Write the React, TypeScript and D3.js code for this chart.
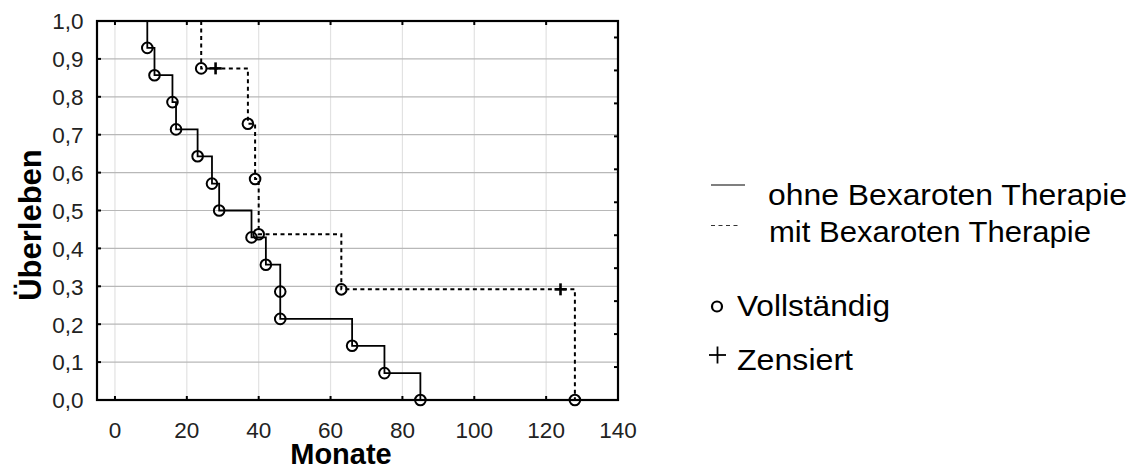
import React from "react";
import * as d3 from "d3";

// ---- data ----
const xTicks = [0, 20, 40, 60, 80, 100, 120, 140];
const yTicks = [0, 0.1, 0.2, 0.3, 0.4, 0.5, 0.6, 0.7, 0.8, 0.9, 1.0];
const rightTicks = [1, 2, 3, 4, 5, 6, 7, 8, 9, 10, 11];

// ohne Bexaroten Therapie (solid)
const ohneTimes = [9, 11, 16, 17, 23, 27, 29, 38, 42, 46, 46, 66, 75, 85];
const ohneSurv = [0.929, 0.857, 0.786, 0.714, 0.643, 0.571, 0.5, 0.429, 0.357, 0.286, 0.214, 0.143, 0.071, 0.0];
const ohneCensTimes: number[] = [];
const ohneCensSurv: number[] = [];

// mit Bexaroten Therapie (dashed)
const mitTimes = [24, 37, 39, 40, 63, 128];
const mitSurv = [0.875, 0.729, 0.583, 0.4375, 0.292, 0.0];
const mitCensTimes = [28, 124];
const mitCensSurv = [0.875, 0.292];

const legendLabels = ["ohne Bexaroten Therapie", "mit Bexaroten Therapie"];
const markerLabels = ["Vollständig", "Zensiert"];

const FONT = "'Liberation Sans', Arial, Helvetica, sans-serif";

export default function App() {
  const W = 1135, H = 470;
  const x = d3.scaleLinear().domain([-5, 140]).range([97, 618]);
  const y = d3.scaleLinear().domain([0, 1]).range([400, 21]);
  const yR = d3.scaleLinear().domain([0, 11.5]).range([400, 21]);

  const line = d3
    .line<[number, number]>()
    .x((d) => x(d[0]))
    .y((d) => y(d[1]))
    .curve(d3.curveStepAfter);

  const stepPts = (ts: number[], ss: number[]): [number, number][] => {
    const pts: [number, number][] = [[ts[0], 1]];
    ts.forEach((t, i) => pts.push([t, ss[i]]));
    return pts;
  };

  const ohnePath = line(stepPts(ohneTimes, ohneSurv)) || "";
  const mitPath = line(stepPts(mitTimes, mitSurv)) || "";

  const fmt = (v: number) => v.toFixed(1).replace(".", ",");

  const x0 = x.range()[0], x1 = x.range()[1];
  const yTop = y.range()[1], yBot = y.range()[0];
  const innerTicks = xTicks.filter((t) => t < 140);

  const plus = (cx: number, cy: number, k: string) => (
    <g key={k} stroke="#000" strokeWidth={2.6}>
      <line x1={cx - 6} x2={cx + 6} y1={cy} y2={cy} />
      <line x1={cx} x2={cx} y1={cy - 6} y2={cy + 6} />
    </g>
  );

  return (
    <svg
      width={W}
      height={H}
      style={{ position: "absolute", left: 0, top: 0, background: "#fff" }}
      fontFamily={FONT}
    >
      <rect x={0} y={0} width={W} height={H} fill="#fff" />
      {/* vertical grid */}
      {innerTicks.map((t) => (
        <line key={"vg" + t} x1={x(t)} x2={x(t)} y1={yTop} y2={yBot} stroke="#e2e2e2" strokeWidth={1.2} />
      ))}
      {/* horizontal grid */}
      {yTicks.slice(1, -1).map((t) => (
        <line key={"hg" + t} x1={x0} x2={x1} y1={y(t)} y2={y(t)} stroke="#b8b8b8" strokeWidth={1.2} />
      ))}
      {/* ticks */}
      {innerTicks.map((t) => (
        <g key={"xt" + t} stroke="#000" strokeWidth={2}>
          <line x1={x(t)} x2={x(t)} y1={yBot} y2={yBot - 4} />
          <line x1={x(t)} x2={x(t)} y1={yTop} y2={yTop + 4} />
        </g>
      ))}
      {yTicks.slice(1, -1).map((t) => (
        <line key={"yt" + t} x1={x0} x2={x0 + 4} y1={y(t)} y2={y(t)} stroke="#000" strokeWidth={2} />
      ))}
      {rightTicks.map((t) => (
        <line key={"rt" + t} x1={x1} x2={x1 - 4} y1={yR(t)} y2={yR(t)} stroke="#000" strokeWidth={2} />
      ))}
      {/* frame */}
      <rect x={x0} y={yTop} width={x1 - x0} height={yBot - yTop} fill="none" stroke="#000" strokeWidth={2.2} />

      {/* curves */}
      <path d={ohnePath} fill="none" stroke="#000" strokeWidth={1.8} />
      <path d={mitPath} fill="none" stroke="#000" strokeWidth={2} strokeDasharray="4,3.5" />

      {/* event markers */}
      {ohneTimes.map((t, i) => (
        <circle key={"oc" + i} cx={x(t)} cy={y(ohneSurv[i])} r={5.3} fill="none" stroke="#000" strokeWidth={2} />
      ))}
      {mitTimes.map((t, i) => (
        <circle key={"mc" + i} cx={x(t)} cy={y(mitSurv[i])} r={5.3} fill="none" stroke="#000" strokeWidth={2} />
      ))}
      {ohneCensTimes.map((t, i) => plus(x(t), y(ohneCensSurv[i]), "oz" + i))}
      {mitCensTimes.map((t, i) => plus(x(t), y(mitCensSurv[i]), "mz" + i))}

      {/* tick labels */}
      {xTicks.map((t) => (
        <text key={"xl" + t} x={x(t)} y={437.5} textAnchor="middle" fontSize={22.5} fill="#222">
          {t}
        </text>
      ))}
      {yTicks.map((t) => (
        <text key={"yl" + t} x={83.5} y={y(t) + 8.3} textAnchor="end" fontSize={22.5} fill="#222">
          {fmt(t)}
        </text>
      ))}

      {/* axis titles */}
      <text x={341} y={464} textAnchor="middle" fontSize={29} fontWeight="bold" fill="#000">
        Monate
      </text>
      <text
        transform="translate(41,225) rotate(-90)"
        textAnchor="middle"
        fontSize={31}
        fontWeight="bold"
        fill="#000"
      >
        Überleben
      </text>

      {/* legend */}
      <line x1={711} x2={745} y1={185} y2={185} stroke="#000" strokeWidth={1.2} />
      <text x={768} y={205} fontSize={29} fill="#000" textLength={359} lengthAdjust="spacingAndGlyphs">
        {legendLabels[0]}
      </text>
      <line x1={711} x2={741} y1={225.5} y2={225.5} stroke="#333" strokeWidth={1.1} strokeDasharray="4,3.5" />
      <text x={769} y={242} fontSize={29} fill="#000" textLength={322} lengthAdjust="spacingAndGlyphs">
        {legendLabels[1]}
      </text>

      <circle cx={717} cy={306.5} r={5} fill="none" stroke="#000" strokeWidth={2.2} />
      <text x={737} y={316} fontSize={29} fill="#000" textLength={153} lengthAdjust="spacingAndGlyphs">
        {markerLabels[0]}
      </text>
      <g stroke="#000" strokeWidth={1.8}>
        <line x1={709} x2={726} y1={355} y2={355} />
        <line x1={717.5} x2={717.5} y1={346.5} y2={363.5} />
      </g>
      <text x={737} y={370} fontSize={29} fill="#000" textLength={116} lengthAdjust="spacingAndGlyphs">
        {markerLabels[1]}
      </text>
    </svg>
  );
}
